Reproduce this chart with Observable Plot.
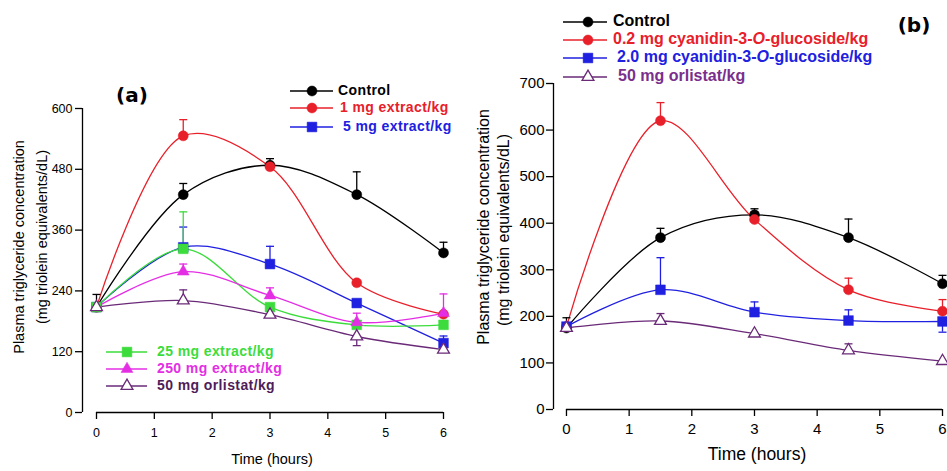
<!DOCTYPE html>
<html><head><meta charset="utf-8">
<script src="https://cdn.jsdelivr.net/npm/d3@7"></script>
<script src="https://cdn.jsdelivr.net/npm/@observablehq/plot@0.6"></script>
<style>
body{margin:0;background:#fff;}
#wrap{position:relative;width:947px;height:471px;overflow:hidden;}
#wrap svg{position:absolute;top:0;}
</style></head><body><div id="wrap"></div>
<script>
// ---------- data ----------
const times = [0, 1.5, 3, 4.5, 6];
const timeTicks = [0, 1, 2, 3, 4, 5, 6];
const yTicksA = [0, 120, 240, 360, 480, 600];
const yTicksB = [0, 100, 200, 300, 400, 500, 600, 700];

// panel (a)
const controlA = [208, 430, 488, 430, 315];
const controlAErr = [25, 22, 13, 45, 21];
const extract1 = [208, 546, 485, 256, 194];
const extract1Err = [0, 32, 6, 0, 0];
const extract5 = [208, 326, 293, 216, 137];
const extract5Err = [0, 40, 35, 0, 14];
const extract25 = [208, 323, 208, 173, 173];
const extract25Err = [0, 73, 0, 0, 0];
const extract250 = [208, 278, 231, 178, 196];
const extract250Err = [0, 15, 15, 18, 38];
const orlistatA = [208, 221, 193, 150, 124];
const orlistatAErr = [0, 21, 0, -18, 0];

// panel (b)
const controlB = [175, 369, 418, 369, 270];
const controlBErr = [22, 20, 13, 40, 18];
const c3g02 = [178, 620, 408, 257, 211];
const c3g02Err = [0, 39, 16, 25, 25];
const c3g20 = [178, 257, 209, 191, 189];
const c3g20Err = [0, 69, 22, 23, -23];
const orlistatB = [175, 190, 163, 127, 104];
const orlistatBErr = [0, 16, 0, 14, 0];

// ---------- styles ----------
const RED = "#e8202a", BLUE = "#2020e0", GREEN = "#3ddc3d", MAG = "#e42ee4", PURP = "#6a2a78", BLACK = "#000";

const seriesA = [
  {name: "Control", values: controlA, errors: controlAErr, color: BLACK, text: BLACK, symbol: "circle", fill: BLACK},
  {name: "1 mg extract/kg", values: extract1, errors: extract1Err, color: RED, text: RED, symbol: "circle", fill: RED},
  {name: "5 mg extract/kg", values: extract5, errors: extract5Err, color: BLUE, text: BLUE, symbol: "square", fill: BLUE},
  {name: "25 mg extract/kg", values: extract25, errors: extract25Err, color: GREEN, text: GREEN, symbol: "square", fill: GREEN},
  {name: "250 mg extract/kg", values: extract250, errors: extract250Err, color: MAG, text: MAG, symbol: "triangle", fill: MAG},
  {name: "50 mg orlistat/kg", values: orlistatA, errors: orlistatAErr, color: PURP, text: "#4e1d5a", symbol: "triangle", fill: "#fff"}
];
const seriesB = [
  {name: "Control", values: controlB, errors: controlBErr, color: BLACK, text: BLACK, symbol: "circle", fill: BLACK},
  {name: "0.2 mg cyanidin-3-|O|-glucoside/kg", values: c3g02, errors: c3g02Err, color: RED, text: RED, symbol: "circle", fill: RED},
  {name: "2.0 mg cyanidin-3-|O|-glucoside/kg", values: c3g20, errors: c3g20Err, color: BLUE, text: BLUE, symbol: "square", fill: BLUE},
  {name: "50 mg orlistat/kg", values: orlistatB, errors: orlistatBErr, color: PURP, text: "#7a2f8c", symbol: "triangle", fill: "#fff"}
];

const symMap = {circle: d3.symbolCircle, square: d3.symbolSquare, triangle: d3.symbolTriangle};
const symR = {circle: 5, square: 5.5, triangle: 4.4};
const capSymbol = {draw(ctx, size) { const w = 4; ctx.moveTo(-w, 0); ctx.lineTo(w, 0); }};

function makePanel(cfg) {
  const marks = [
    Plot.ruleX([cfg.xMin], {y1: 0, y2: cfg.yMax, stroke: BLACK, strokeWidth: 1.3}),
    Plot.ruleY([0], {x1: 0, x2: 6, stroke: BLACK, strokeWidth: 1.3}),
    Plot.axisY({ticks: cfg.yTicks, tickSize: 7, tickPadding: cfg.padY, fontSize: cfg.fontSize, tickFormat: d => String(d), label: null, strokeWidth: 1.3}),
    Plot.axisX({ticks: timeTicks, tickSize: 7, tickPadding: cfg.padX, fontSize: cfg.fontSize, tickFormat: d => String(d), label: null, strokeWidth: 1.3})
  ];
  const all = cfg.series.map(s => times.map((t, i) => ({t, v: s.values[i], e: s.errors[i], top: s.values[i] + s.errors[i]})));
  cfg.series.forEach((s, k) => {
    marks.push(Plot.line(all[k], {x: "t", y: "v", curve: "catmull-rom", stroke: s.color, strokeWidth: 1.3}));
  });
  cfg.series.forEach((s, k) => {
    const e = all[k].filter(d => d.e !== 0);
    marks.push(Plot.ruleX(e, {x: "t", y1: "v", y2: "top", stroke: s.color, strokeWidth: 1.3}));
    marks.push(Plot.dot(e, {x: "t", y: "top", symbol: capSymbol, stroke: s.color, fill: "none", strokeWidth: 1.3}));
  });
  cfg.series.forEach((s, k) => {
    marks.push(Plot.dot(all[k], {x: "t", y: "v", symbol: s.symbol, r: symR[s.symbol], fill: s.fill, stroke: s.color, strokeWidth: s.fill === "#fff" ? 1.3 : 0.5}));
  });
  const svg = Plot.plot({
    width: cfg.width, height: 471,
    marginTop: cfg.mt, marginBottom: cfg.mb, marginLeft: cfg.ml, marginRight: cfg.mr,
    x: {domain: [cfg.xMin, 6]},
    y: {domain: [0, cfg.yMax]},
    style: {fontFamily: "'Liberation Sans', Arial, sans-serif", color: "#000", background: "transparent", overflow: "visible"},
    marks
  });
  svg.style.left = cfg.left + "px";
  const g = d3.select(svg).append("g").attr("text-anchor", "start");
  // panel tag
  g.append("text").attr("x", cfg.tag.x).attr("y", cfg.tag.y).attr("text-anchor", "middle")
    .attr("font-family", "'DejaVu Sans', Verdana, sans-serif").attr("font-weight", "bold").attr("font-size", 20).text(cfg.tag.text);
  // y title
  cfg.ytitle.forEach(l => {
    g.append("text").attr("transform", `translate(${l.x},${l.y}) rotate(-90)`).attr("text-anchor", "middle")
      .attr("dominant-baseline", "middle").attr("font-family", "'Liberation Sans', Arial, sans-serif")
      .attr("font-size", cfg.titleSize).text(l.text);
  });
  // x title
  g.append("text").attr("x", cfg.xtitle.x).attr("y", cfg.xtitle.y).attr("text-anchor", "middle")
    .attr("dominant-baseline", "middle").attr("font-family", "'Liberation Sans', Arial, sans-serif")
    .attr("font-size", cfg.xtitle.size).text("Time (hours)");
  // legends
  cfg.legends.forEach(L => {
    L.items.forEach((idx, j) => {
      const s = cfg.series[idx];
      const y = L.y[j];
      const r = symR[s.symbol];
      g.append("line").attr("x1", L.x1).attr("x2", L.x2).attr("y1", y).attr("y2", y).attr("stroke", s.color).attr("stroke-width", 1.3);
      g.append("path").attr("transform", `translate(${L.cx},${y})`)
        .attr("d", d3.symbol(symMap[s.symbol], Math.PI * r * r)())
        .attr("fill", s.fill).attr("stroke", s.color).attr("stroke-width", s.fill === "#fff" ? 1.3 : 0.5);
      const t = g.append("text").attr("x", L.tx + (L.dx ? L.dx[j] : 0)).attr("y", y).attr("dominant-baseline", "middle")
        .attr("text-anchor", "start")
        .attr("font-family", "'Liberation Sans', Arial, sans-serif").attr("font-weight", "bold")
        .attr("font-size", L.size).attr("letter-spacing", L.ls).attr("fill", s.text);
      s.name.split("|").forEach((part, pi) => {
        t.append("tspan").attr("font-style", pi % 2 ? "italic" : "normal").text(part);
      });
    });
  });
  return svg;
}

const wrap = document.getElementById("wrap");
wrap.appendChild(makePanel({
  left: 0, width: 470, mt: 108, mb: 59, ml: 82, mr: 27, xMin: -0.242, yMax: 600, yTicks: yTicksA,
  series: seriesA, fontSize: 12.5, padX: 9, padY: 3, titleSize: 14.5,
  tag: {text: "(a)", x: 132, y: 102},
  ytitle: [{text: "Plasma triglyceride concentration", x: 20, y: 247}, {text: "(mg triolein equivalents/dL)", x: 43, y: 237}],
  xtitle: {x: 272, y: 460, size: 14.5},
  legends: [
    {items: [0, 1, 2], y: [91, 108, 127], x1: 290, x2: 333, cx: 312, tx: 338, dx: [0, 2, 5], size: 14, ls: 0.4},
    {items: [3, 4, 5], y: [352, 369, 386], x1: 106, x2: 147, cx: 127, tx: 157, size: 14, ls: 0.4}
  ]
}));
wrap.appendChild(makePanel({
  left: 470, width: 477, mt: 83, mb: 62, ml: 83, mr: 5, xMin: -0.207, yMax: 700, yTicks: yTicksB,
  series: seriesB, fontSize: 15, padX: 7, padY: 2, titleSize: 16,
  tag: {text: "(b)", x: 444, y: 32},
  ytitle: [{text: "Plasma triglyceride concentration", x: 15, y: 227}, {text: "(mg triolein equivalents/dL)", x: 35, y: 230}],
  xtitle: {x: 287, y: 455, size: 17.5},
  legends: [
    {items: [0, 1, 2, 3], y: [22, 40, 58, 77], x1: 93, x2: 137, cx: 118, tx: 143, dx: [0, 0, 4, 5], size: 16, ls: 0}
  ]
}));
</script></body></html>
